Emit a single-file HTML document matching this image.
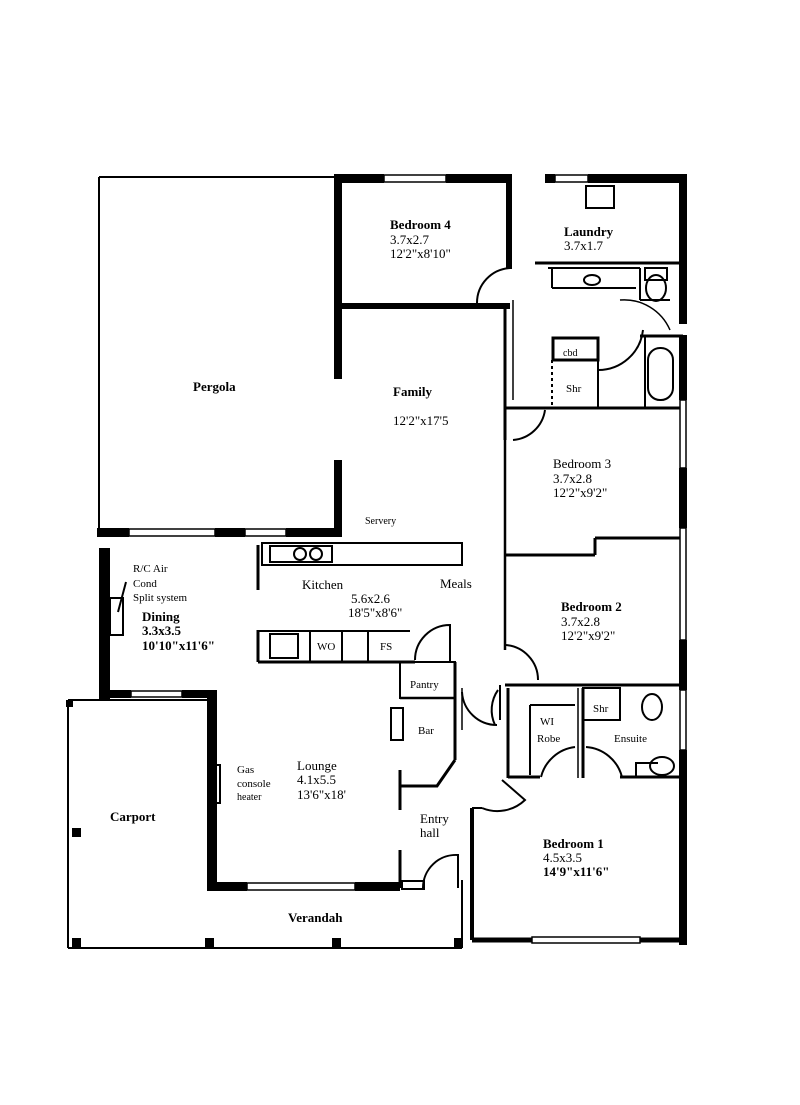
<!DOCTYPE html>
<html><head><meta charset="utf-8"><style>
body{margin:0;background:#fff}
svg{display:block}
text{font-family:"Liberation Serif",serif;fill:#000}
.b{font-weight:bold}
</style></head><body>
<svg width="800" height="1105" viewBox="0 0 800 1105" xmlns="http://www.w3.org/2000/svg">
<rect width="800" height="1105" fill="#fff"/>
<g stroke="#000" fill="none" stroke-width="2">
<line x1="99" y1="177" x2="336" y2="177"/>
<line x1="99" y1="177" x2="99" y2="530"/>
<line x1="68" y1="700" x2="68" y2="948"/>
<line x1="68" y1="948" x2="462" y2="948"/>
<line x1="68" y1="700" x2="210" y2="700"/>
<line x1="462" y1="880" x2="462" y2="948"/>
<line x1="505" y1="306" x2="505" y2="440" stroke-width="3"/>
<line x1="505" y1="440" x2="505" y2="650" stroke-width="2.5"/>
<line x1="510" y1="177" x2="510" y2="268" stroke-width="3"/>
<line x1="513" y1="300" x2="513" y2="400" stroke-width="1.5"/>
<line x1="535" y1="263" x2="683" y2="263" stroke-width="3"/>
<line x1="548" y1="268" x2="640" y2="268"/>
<line x1="552" y1="268" x2="552" y2="288"/>
<line x1="552" y1="288" x2="636" y2="288"/>
<line x1="640" y1="268" x2="640" y2="300"/>
<line x1="640" y1="300" x2="670" y2="300"/>
<line x1="640" y1="336" x2="683" y2="336" stroke-width="3"/>
<line x1="645" y1="336" x2="645" y2="408"/>
<rect x="648" y="348" width="25" height="52" rx="12"/>
<rect x="553" y="338" width="45" height="22" stroke-width="3"/>
<line x1="598" y1="360" x2="598" y2="408"/>
<line x1="552" y1="360" x2="552" y2="408" stroke-dasharray="3 3"/>
<path d="M598 370 A45 45 0 0 0 643 330"/>
<path d="M670 330 A50 50 0 0 0 620 300" stroke-width="1.5"/>
<rect x="645" y="268" width="22" height="12"/>
<ellipse cx="656" cy="288" rx="10" ry="13"/>
<rect x="586" y="186" width="28" height="22"/>
<ellipse cx="592" cy="280" rx="8" ry="5"/>
<path d="M477 303 A35 35 0 0 1 510 268"/>
<path d="M513 440 A35 35 0 0 0 545 410"/>
<line x1="505" y1="408" x2="683" y2="408" stroke-width="3"/>
<line x1="505" y1="555" x2="595" y2="555" stroke-width="3"/>
<line x1="595" y1="555" x2="595" y2="538" stroke-width="3"/>
<line x1="595" y1="538" x2="683" y2="538" stroke-width="3"/>
<line x1="505" y1="685" x2="683" y2="685" stroke-width="3"/>
<path d="M505 645 A35 35 0 0 1 538 680"/>
<path d="M500 685 L500 720 M498 690 A35 35 0 0 0 495 725"/>
<path d="M462 692 A35 35 0 0 0 497 725"/>
<line x1="508" y1="688" x2="508" y2="778" stroke-width="3"/>
<line x1="583" y1="688" x2="583" y2="778" stroke-width="3"/>
<line x1="578" y1="688" x2="578" y2="778" stroke-width="1.5"/>
<line x1="508" y1="777" x2="540" y2="777" stroke-width="3"/>
<line x1="620" y1="777" x2="683" y2="777" stroke-width="3"/>
<line x1="530" y1="705" x2="575" y2="705"/>
<line x1="530" y1="705" x2="530" y2="775"/>
<rect x="583" y="688" width="37" height="32"/>
<path d="M541 777 A40 40 0 0 1 575 747"/>
<path d="M586 747 A40 40 0 0 1 622 777"/>
<ellipse cx="652" cy="707" rx="10" ry="13"/>
<ellipse cx="662" cy="766" rx="12" ry="9"/>
<path d="M636 777 L636 763 L658 763"/>
<line x1="472" y1="808" x2="472" y2="940" stroke-width="4"/>
<line x1="472" y1="940" x2="685" y2="940" stroke-width="5"/>
<line x1="472" y1="808" x2="482" y2="808"/>
<path d="M482 808 A40 40 0 0 0 525 800 L502 780"/>
<rect x="262" y="543" width="200" height="22"/>
<rect x="270" y="546" width="62" height="16"/>
<circle cx="300" cy="554" r="6"/><circle cx="316" cy="554" r="6"/>
<line x1="258" y1="545" x2="258" y2="590" stroke-width="3"/>
<line x1="258" y1="630" x2="258" y2="662" stroke-width="3"/>
<line x1="258" y1="631" x2="410" y2="631"/>
<line x1="258" y1="662" x2="415" y2="662" stroke-width="3"/>
<line x1="310" y1="631" x2="310" y2="662"/>
<line x1="342" y1="631" x2="342" y2="662"/>
<line x1="368" y1="631" x2="368" y2="662"/>
<rect x="270" y="634" width="28" height="24"/>
<path d="M415 660 A35 35 0 0 1 450 625 L450 662"/>
<rect x="400" y="662" width="55" height="36"/>
<line x1="455" y1="662" x2="455" y2="760" stroke-width="3"/>
<line x1="400" y1="698" x2="455" y2="698" stroke-width="2.5"/>
<rect x="391" y="708" width="12" height="32"/>
<path d="M455 760 L437 786 L400 786" stroke-width="3"/>
<line x1="400" y1="770" x2="400" y2="810" stroke-width="3"/>
<line x1="400" y1="850" x2="400" y2="888" stroke-width="3"/>
<line x1="462" y1="688" x2="462" y2="730" stroke-width="1.5"/>
<path d="M423 888 A33 33 0 0 1 458 855 L458 888"/>
<rect x="402" y="881" width="22" height="8"/>
<rect x="110" y="598" width="13" height="37"/>
<line x1="126" y1="582" x2="118" y2="612"/>
<rect x="210" y="765" width="10" height="38"/>
</g>
<g stroke="#000" fill="#fff" stroke-width="1.5">
<rect x="384" y="175" width="62" height="7"/>
<rect x="555" y="175" width="33" height="7"/>
<rect x="129" y="529" width="86" height="7"/>
<rect x="245" y="529" width="41" height="7"/>
<rect x="131" y="691" width="51" height="6"/>
<rect x="247" y="883" width="108" height="7"/>
<rect x="532" y="937" width="108" height="6"/>
<rect x="680" y="400" width="6" height="68"/>
<rect x="680" y="528" width="6" height="112"/>
<rect x="680" y="690" width="6" height="60"/>
</g>
<g fill="#000">
<rect x="334" y="174" width="8" height="205"/>
<rect x="334" y="460" width="8" height="75"/>
<rect x="334" y="174" width="50" height="9"/>
<rect x="446" y="174" width="66" height="9"/>
<rect x="506" y="174" width="6" height="95"/>
<rect x="340" y="303" width="170" height="6"/>
<rect x="545" y="174" width="10" height="9"/>
<rect x="588" y="174" width="98" height="9"/>
<rect x="679" y="174" width="8" height="150"/>
<rect x="679" y="335" width="8" height="65"/>
<rect x="679" y="468" width="8" height="60"/>
<rect x="679" y="640" width="8" height="50"/>
<rect x="679" y="750" width="8" height="195"/>
<rect x="97" y="528" width="32" height="9"/>
<rect x="215" y="528" width="30" height="9"/>
<rect x="286" y="528" width="56" height="9"/>
<rect x="99" y="548" width="11" height="152"/>
<rect x="99" y="690" width="32" height="8"/>
<rect x="182" y="690" width="35" height="8"/>
<rect x="207" y="690" width="10" height="200"/>
<rect x="207" y="882" width="40" height="9"/>
<rect x="355" y="882" width="45" height="9"/>
<rect x="72" y="828" width="9" height="9"/>
<rect x="72" y="938" width="9" height="9"/>
<rect x="205" y="938" width="9" height="9"/>
<rect x="332" y="938" width="9" height="9"/>
<rect x="454" y="938" width="9" height="9"/>
<rect x="66" y="700" width="7" height="7"/>
</g>
<g font-size="13">
<text x="390" y="229" class="b">Bedroom 4</text>
<text x="390" y="244">3.7x2.7</text>
<text x="390" y="258">12'2"x8'10"</text>
<text x="564" y="236" class="b">Laundry</text>
<text x="564" y="250">3.7x1.7</text>
<text x="563" y="356" font-size="10">cbd</text>
<text x="566" y="392" font-size="11">Shr</text>
<text x="193" y="391" class="b">Pergola</text>
<text x="393" y="396" class="b">Family</text>
<text x="393" y="425">12'2"x17'5</text>
<text x="553" y="468">Bedroom 3</text>
<text x="553" y="483">3.7x2.8</text>
<text x="553" y="497">12'2"x9'2"</text>
<text x="365" y="524" font-size="10">Servery</text>
<text x="133" y="572" font-size="11">R/C Air</text>
<text x="133" y="587" font-size="11">Cond</text>
<text x="133" y="601" font-size="11">Split system</text>
<text x="302" y="589">Kitchen</text>
<text x="440" y="588">Meals</text>
<text x="351" y="603">5.6x2.6</text>
<text x="348" y="617">18'5"x8'6"</text>
<text x="142" y="621" class="b">Dining</text>
<text x="142" y="635" class="b">3.3x3.5</text>
<text x="142" y="650" class="b">10'10"x11'6"</text>
<text x="317" y="650" font-size="11">WO</text>
<text x="380" y="650" font-size="11">FS</text>
<text x="561" y="611" class="b">Bedroom 2</text>
<text x="561" y="626">3.7x2.8</text>
<text x="561" y="640">12'2"x9'2"</text>
<text x="410" y="688" font-size="11">Pantry</text>
<text x="593" y="712" font-size="11">Shr</text>
<text x="540" y="725" font-size="11">WI</text>
<text x="537" y="742" font-size="11">Robe</text>
<text x="614" y="742" font-size="11">Ensuite</text>
<text x="418" y="734" font-size="11">Bar</text>
<text x="237" y="773" font-size="11">Gas</text>
<text x="237" y="787" font-size="11">console</text>
<text x="237" y="800" font-size="10">heater</text>
<text x="297" y="770">Lounge</text>
<text x="297" y="784">4.1x5.5</text>
<text x="297" y="799">13'6"x18'</text>
<text x="420" y="823">Entry</text>
<text x="420" y="837">hall</text>
<text x="110" y="821" class="b">Carport</text>
<text x="543" y="848" class="b">Bedroom 1</text>
<text x="543" y="862">4.5x3.5</text>
<text x="543" y="876" class="b">14'9"x11'6"</text>
<text x="288" y="922" class="b">Verandah</text>
</g>
</svg>
</body></html>
